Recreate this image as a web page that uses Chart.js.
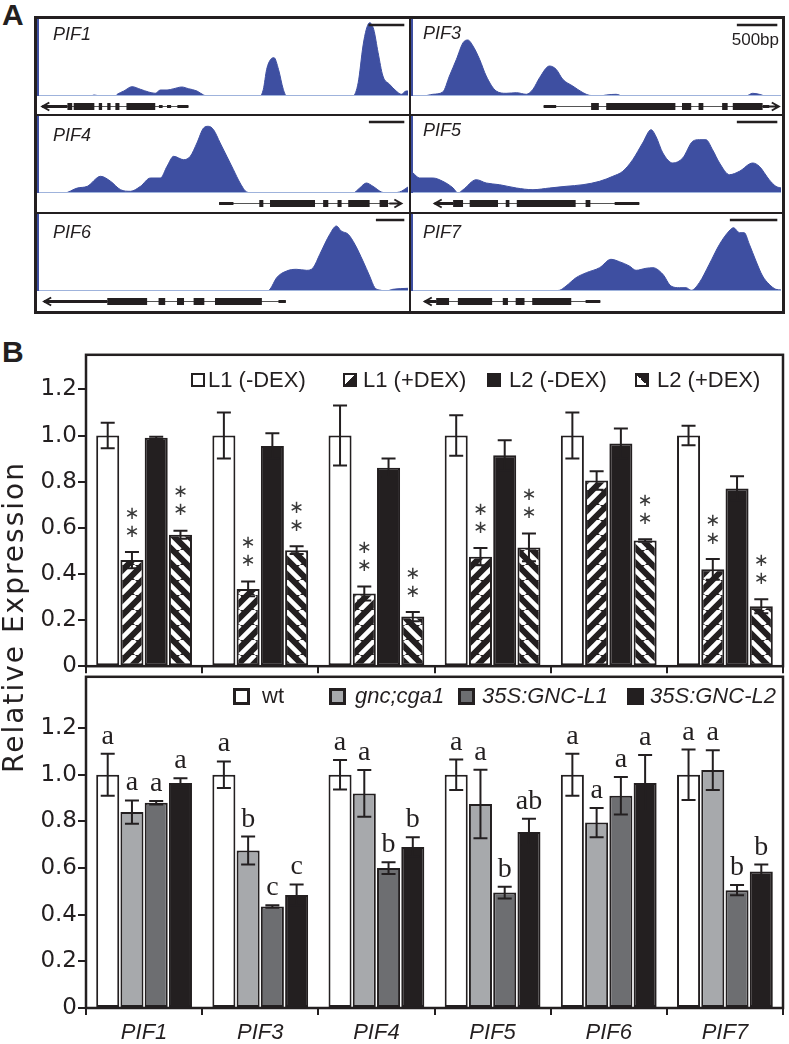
<!DOCTYPE html>
<html>
<head>
    <title>PIF binding and expression</title>
    <style>
        body {
            margin: 0;
            width: 789px;
            height: 1044px;
            position: relative;
            overflow: hidden;
            background: #ffffff;
            font-family: 'Liberation Sans', Arial, sans-serif;
            color: #231f20;
        }
        .abs { position: absolute; }
        .panel-letter { font-size: 30px; font-weight: bold; line-height: 30px; }
        .track-label { font-size: 18px; font-style: italic; line-height: 18px; }
        .legend-text { font-size: 22px; line-height: 22px; white-space: nowrap; }
        .swatch { box-sizing: border-box; border: 2px solid #231f20; }
        .rule { background: #231f20; }
        #frameA { left: 34px; top: 16px; width: 745px; height: 292px; border: 3px solid #231f20; }
        #ylabel {
            left: -166px; top: 600px; width: 360px; height: 34px; line-height: 34px;
            text-align: center; font-family: 'DejaVu Sans', sans-serif; font-size: 28px;
            letter-spacing: 2px; transform: rotate(-90deg); white-space: nowrap;
        }
    </style>
    <script src="https://cdn.jsdelivr.net/npm/chart.js"></script>
</head>
<body>
    <div class="abs panel-letter" style="left:2px; top:0px;">A</div>
    <div class="abs panel-letter" style="left:2px; top:337px;">B</div>

    <div id="frameA" class="abs"></div>
    <div class="abs rule" style="left:409px; top:19px; width:2px; height:292px;"></div>
    <div class="abs rule" style="left:37px; top:114px; width:745px; height:2px;"></div>
    <div class="abs rule" style="left:37px; top:212px; width:745px; height:2px;"></div>
    <div id="tracks"></div>
    <div class="abs" style="left:700px; width:79px; top:31px; font-size:17px; line-height:17px; text-align:right;">500bp</div>

    <canvas id="topChart" class="abs" style="left:0; top:340px;" width="789" height="341"></canvas>
    <canvas id="bottomChart" class="abs" style="left:0; top:662px;" width="789" height="382"></canvas>
    <div id="legends"></div>
    <div id="ylabel" class="abs">Relative Expression</div>

    <script>
        // ---------- panel A: ChIP coverage tracks (x = % of window, y = signal height) ----------
        const trackNames = ['PIF1', 'PIF3', 'PIF4', 'PIF5', 'PIF6', 'PIF7'];

        const pif1Pos = [0, 14, 14.9, 16.7, 20.7, 21.2, 23, 25.2, 27.5, 29.7, 31.5, 32.9, 34.7, 36.5, 38.7, 40.5, 42.8, 44.6, 45.5, 59.9, 60.8, 61.7, 62.8, 63.7, 64.9, 66.2, 67.1, 85.1, 86.5, 87.8, 88.7, 89.6, 90.7, 91.9, 93.2, 95, 96.8, 98.2, 99.5, 100];
        const pif1Cov = [0, 0, 1, 0, 0, 1.7, 5, 9.3, 6.7, 4, 2.7, 6, 6, 7.3, 9, 7.3, 5, 1, 0, 0, 6.7, 26.7, 36.7, 38.3, 26.7, 6.7, 0, 0, 13.3, 50, 66.7, 73.3, 66.7, 43.3, 20, 11.7, 5, 1.7, 5, 5];

        const pif3Pos = [0, 2.7, 5.4, 8.1, 9.9, 11.8, 13.6, 14.9, 16.3, 18.1, 19.9, 22.6, 25.3, 28.1, 30.8, 32.6, 34.4, 37.1, 38.9, 40.7, 43.4, 46.2, 47.9, 50.7, 52.5, 55.2, 57, 90.5, 92.3, 94.1, 95.9, 100];
        const pif3Cov = [0, 0, 1.7, 4, 20, 36.7, 53.3, 56, 50, 36.7, 20, 5, 2.7, 3.3, 1.7, 6.7, 18.3, 30, 26.7, 16.7, 10, 3.3, 0.7, 0, 1, 1.7, 0, 0, 2.7, 1.7, 0, 0];

        const pif4Pos = [0, 6.8, 10.4, 13.1, 16.7, 19.4, 22.1, 24.8, 27.5, 30.2, 32.9, 34.7, 36.5, 39.2, 41, 42.8, 44.6, 45.9, 47.3, 49.1, 50.9, 52.7, 54.5, 56.3, 58.1, 85.1, 86.9, 88.7, 90.5, 92.8, 94.6, 97.7, 100];
        const pif4Cov = [0, 0, 5, 6.7, 16.7, 11.7, 3.3, 1.7, 6.7, 15, 15, 26.7, 36.7, 33.3, 36.7, 50, 65, 66.7, 63.3, 50, 36.7, 23.3, 10, 1, 0, 0, 5, 10, 6.7, 1, 0, 1, 6];

        const pif5Pos = [0, 1.8, 5.4, 8.1, 10.9, 12.2, 13.6, 17.2, 19.9, 23.5, 28.1, 32.6, 37.1, 41.6, 46.2, 50.7, 54.3, 57, 59.7, 62.4, 64.7, 66, 67.9, 70.6, 73.3, 76, 77.8, 79.6, 81.4, 83.3, 86, 88.7, 92.3, 94.1, 96.8, 98.6, 100];
        const pif5Cov = [20, 15, 15, 11.7, 5, 0, 3.3, 13.3, 10, 8.3, 5, 3.3, 5, 6.7, 8.3, 11.7, 16.7, 21.7, 33.3, 50, 63.3, 56.7, 40, 30, 35, 51.7, 53.3, 53.3, 43.3, 30, 18.3, 21.7, 30, 26.7, 13.3, 6.7, 5];

        const pif6Pos = [0, 61.7, 62.6, 64.4, 67.1, 69.8, 72.5, 74.3, 76.1, 78.8, 80.6, 81.9, 83.8, 85.6, 87.8, 89.6, 91, 92.3, 94.1, 95.9, 100];
        const pif6Cov = [0, 0, 1.7, 13.3, 20, 21.7, 20.7, 23.3, 36.7, 56.7, 65, 60, 56.7, 46.7, 30, 15, 3.3, 1, 0, 1.7, 2.7];

        const pif7Pos = [0, 37.1, 39.8, 41.6, 44.3, 47.1, 50.7, 53.8, 56.1, 58.8, 60.6, 63.3, 65.2, 67.9, 70.1, 72.4, 74.2, 75.6, 77.8, 80.5, 83.3, 85.9, 87.1, 88.7, 90, 91.4, 93.2, 95, 96.8, 98.6, 100];
        const pif7Cov = [0, 0, 0.7, 5, 13.3, 18.3, 23.3, 31.7, 29.3, 25, 20.7, 22.7, 23.3, 16.7, 5, 3.3, 3.3, 0.7, 8.3, 26.7, 46.7, 60, 63.3, 58.3, 58.3, 46.7, 30, 15, 6.7, 1.7, 1];

        // gene models (same % units), strand -1 = arrow to the left
        const geneSpans = [[0.9, 40.5], [35.5, 99.4], [48.8, 98.2], [5.9, 61.5], [1.4, 66.9], [3.2, 50.9]];
        const geneStrands = [-1, 1, 1, -1, -1, -1];
        const geneExons = [
            [[7.7, 9], [9.4, 15], [16.2, 17.1], [18.5, 19.4], [20.7, 21.8], [23.7, 31.5]],
            [[48.4, 50.5], [52.5, 71.3], [73.1, 75.6], [77.6, 78.9], [84, 85.5], [86.9, 95]],
            [[59.7, 60.8], [62.6, 74.8], [77, 78.4], [80.9, 82], [83.8, 89.6], [92.3, 94.6]],
            [[10.9, 13.6], [15.4, 23.1], [25.2, 26.2], [28.2, 44.2], [46.9, 48.2]],
            [[18.5, 29.3], [32.4, 34.2], [37.4, 39.3], [41.9, 44.8], [47.7, 60.4]],
            [[6.3, 9.8], [12.2, 21.5], [24.4, 25.8], [27.9, 30.3], [32.4, 43]]
        ];
        const geneUtrs = [
            [[0.9, 7.7], [32.5, 33.5], [34.7, 35.8], [37.5, 40.5]],
            [[35.5, 38.9], [95, 96.8]],
            [[48.8, 52.7]],
            [[5.9, 10.9], [54.8, 61.5]],
            [[1.4, 18.5], [64.9, 66.9]],
            [[3.2, 6.3], [46.9, 50.9]]
        ];
        const scaleBar500bp = [9.7, 11, 9.6, 11, 7.7, 12.9];

        // ---------- panel B: qRT-PCR ----------
        const genes = ['PIF1', 'PIF3', 'PIF4', 'PIF5', 'PIF6', 'PIF7'];
        const yTicks = [0, 0.2, 0.4, 0.6, 0.8, 1.0, 1.2];

        const topSeries = ['L1 (-DEX)', 'L1 (+DEX)', 'L2 (-DEX)', 'L2 (+DEX)'];
        const l1Minus = [1, 1, 1, 1, 1, 1];
        const l1MinusErr = [0.055, 0.1, 0.13, 0.088, 0.1, 0.042];
        const l1Plus = [0.46, 0.335, 0.315, 0.475, 0.805, 0.42];
        const l1PlusErr = [0.035, 0.032, 0.03, 0.037, 0.04, 0.045];
        const l2Minus = [0.99, 0.955, 0.86, 0.915, 0.965, 0.77];
        const l2MinusErr = [0.005, 0.055, 0.04, 0.065, 0.065, 0.053];
        const l2Plus = [0.57, 0.503, 0.215, 0.515, 0.545, 0.26];
        const l2PlusErr = [0.017, 0.017, 0.02, 0.06, 0.005, 0.03];
        const l1PlusSig = [true, true, true, true, false, true];
        const l2PlusSig = [true, true, true, true, true, true];

        const bottomSeries = ['wt', 'gnc;cga1', '35S:GNC-L1', '35S:GNC-L2'];
        const wt = [1, 1, 1, 1, 1, 1];
        const wtErr = [0.09, 0.057, 0.063, 0.065, 0.09, 0.108];
        const gncCga1 = [0.84, 0.675, 0.92, 0.875, 0.795, 1.02];
        const gncCga1Err = [0.05, 0.06, 0.1, 0.147, 0.063, 0.085];
        const gncL1 = [0.88, 0.435, 0.6, 0.495, 0.91, 0.505];
        const gncL1Err = [0.008, 0.005, 0.025, 0.025, 0.08, 0.022];
        const gncL2 = [0.965, 0.485, 0.69, 0.755, 0.965, 0.585];
        const gncL2Err = [0.02, 0.045, 0.042, 0.056, 0.12, 0.03];
        const wtLetters = ['a', 'a', 'a', 'a', 'a', 'a'];
        const gncCga1Letters = ['a', 'b', 'a', 'a', 'a', 'a'];
        const gncL1Letters = ['a', 'c', 'b', 'b', 'a', 'b'];
        const gncL2Letters = ['a', 'c', 'b', 'ab', 'a', 'b'];

        const INK = '#231f20';
        const BLUE = '#3e4fa1';

        // ---------- track charts ----------
        const trackPos = [pif1Pos, pif3Pos, pif4Pos, pif5Pos, pif6Pos, pif7Pos];
        const trackCov = [pif1Cov, pif3Cov, pif4Cov, pif5Cov, pif6Cov, pif7Cov];

        const trackDecor = {
            id: 'trackDecor',
            afterDatasetsDraw(chart, args, opts) {
                const ctx = chart.ctx, a = chart.chartArea, xs = chart.scales.x;
                const px = v => xs.getPixelForValue(v);
                const k = opts.index;
                ctx.save();
                // baseline + blue axis
                ctx.strokeStyle = '#9fb3dc';
                ctx.lineWidth = 1;
                ctx.beginPath(); ctx.moveTo(a.left, a.bottom - 0.5); ctx.lineTo(a.right, a.bottom - 0.5); ctx.stroke();
                ctx.strokeStyle = BLUE;
                ctx.lineWidth = 2;
                ctx.beginPath(); ctx.moveTo(a.left - 1, 0); ctx.lineTo(a.left - 1, a.bottom); ctx.stroke();
                // scale bar (500 bp)
                ctx.strokeStyle = INK;
                ctx.lineWidth = 2.5;
                ctx.beginPath(); ctx.moveTo(px(99 - scaleBar500bp[k]), 6); ctx.lineTo(px(99), 6); ctx.stroke();
                // gene model
                const y = a.bottom + 10;
                const span = geneSpans[k];
                ctx.strokeStyle = '#555';
                ctx.lineWidth = 1;
                ctx.beginPath(); ctx.moveTo(px(span[0]), y + 0.5); ctx.lineTo(px(span[1]), y + 0.5); ctx.stroke();
                ctx.fillStyle = INK;
                geneUtrs[k].forEach(([s, e]) => ctx.fillRect(px(s), y - 1, px(e) - px(s), 3));
                geneExons[k].forEach(([s, e]) => ctx.fillRect(px(s), y - 3, px(e) - px(s), 7));
                const tip = geneStrands[k] > 0 ? px(span[1]) : px(span[0]);
                const d = geneStrands[k] > 0 ? -1 : 1;
                ctx.strokeStyle = INK;
                ctx.lineWidth = 2;
                ctx.beginPath();
                ctx.moveTo(tip + d * 7, y - 3.5); ctx.lineTo(tip, y + 0.5); ctx.lineTo(tip + d * 7, y + 4.5);
                ctx.moveTo(tip, y + 0.5); ctx.lineTo(tip + d * 12, y + 0.5);
                ctx.stroke();
                ctx.restore();
            }
        };

        const colLeft = [37, 411];
        const colWidth = [372, 371];
        const rowTop = [19, 116, 214];
        const labelTop = [25, 24, 126, 121, 223, 223];
        const tracksDiv = document.getElementById('tracks');

        trackNames.forEach((name, k) => {
            const col = k % 2, row = Math.floor(k / 2);
            const cv = document.createElement('canvas');
            cv.className = 'abs';
            cv.width = colWidth[col];
            cv.height = 95;
            cv.style.left = colLeft[col] + 'px';
            cv.style.top = rowTop[row] + 'px';
            tracksDiv.appendChild(cv);

            const lab = document.createElement('div');
            lab.className = 'abs track-label';
            lab.style.left = (col ? 423 : 53) + 'px';
            lab.style.top = labelTop[k] + 'px';
            lab.textContent = name;
            tracksDiv.appendChild(lab);

            new Chart(cv, {
                type: 'line',
                data: {
                    datasets: [{
                        data: trackPos[k].map((x, i) => ({ x: x, y: trackCov[k][i] })),
                        fill: 'origin',
                        backgroundColor: BLUE,
                        borderColor: BLUE,
                        borderWidth: 1,
                        pointRadius: 0,
                        cubicInterpolationMode: 'monotone'
                    }]
                },
                options: {
                    responsive: false,
                    animation: false,
                    devicePixelRatio: 1,
                    events: [],
                    layout: { padding: { left: 2, right: 1, top: 0, bottom: 18 } },
                    scales: {
                        x: { type: 'linear', min: 0, max: 100, display: false },
                        y: { min: 0, max: 77, display: false }
                    },
                    plugins: {
                        legend: { display: false },
                        tooltip: { enabled: false },
                        trackDecor: { index: k }
                    }
                },
                plugins: [trackDecor]
            });
        });

        // ---------- bar charts ----------
        function hatch(dir) {
            const c = document.createElement('canvas');
            c.width = 15;
            c.height = 15;
            const g = c.getContext('2d');
            g.fillStyle = INK;
            g.fillRect(0, 0, 15, 15);
            g.strokeStyle = '#ffffff';
            g.lineWidth = 4.6;
            g.beginPath();
            for (const k of [-15, 0, 15]) {
                if (dir === '/') { g.moveTo(k, 15); g.lineTo(k + 15, 0); }
                else { g.moveTo(k, 0); g.lineTo(k + 15, 15); }
            }
            g.stroke();
            return g.createPattern(c, 'repeat');
        }

        const barExtras = {
            id: 'barExtras',
            afterDatasetsDraw(chart) {
                const ctx = chart.ctx, ys = chart.scales.y;
                chart.data.datasets.forEach((ds, i) => {
                    const meta = chart.getDatasetMeta(i);
                    meta.data.forEach((bar, j) => {
                        const v = ds.data[j], e = ds.errors[j];
                        const top = ys.getPixelForValue(v + e);
                        const bot = ys.getPixelForValue(v - e);
                        ctx.save();
                        ctx.strokeStyle = INK;
                        ctx.lineWidth = 2;
                        ctx.beginPath();
                        ctx.moveTo(bar.x, top); ctx.lineTo(bar.x, bot);
                        ctx.moveTo(bar.x - 7, top); ctx.lineTo(bar.x + 7, top);
                        ctx.moveTo(bar.x - 7, bot); ctx.lineTo(bar.x + 7, bot);
                        ctx.stroke();
                        ctx.textAlign = 'center';
                        if (ds.stars && ds.stars[j]) {
                            ctx.fillStyle = '#3a3a3a';
                            ctx.font = '18px "DejaVu Sans"';
                            ctx.textBaseline = 'middle';
                            ctx.fillText('\u2217', bar.x, top - 20);
                            ctx.fillText('\u2217', bar.x, top - 38);
                        }
                        if (ds.letters) {
                            ctx.fillStyle = INK;
                            ctx.font = '28px "Liberation Serif", "Times New Roman", serif';
                            ctx.textBaseline = 'alphabetic';
                            ctx.fillText(ds.letters[j], bar.x, top - 10);
                        }
                        ctx.restore();
                    });
                });
            },
            afterDraw(chart) {
                const ctx = chart.ctx, a = chart.chartArea;
                ctx.save();
                ctx.strokeStyle = INK;
                ctx.lineWidth = 2.5;
                ctx.strokeRect(a.left, a.top, a.right - a.left, a.bottom - a.top);
                ctx.restore();
            }
        };

        function barOptions(maxY, showX) {
            return {
                responsive: false,
                animation: false,
                devicePixelRatio: 1,
                events: [],
                layout: { padding: { top: 11, right: 6, left: 0, bottom: 0 } },
                datasets: {
                    bar: {
                        categoryPercentage: 0.835,
                        barPercentage: 0.95,
                        borderWidth: 2,
                        borderColor: INK,
                        borderSkipped: false
                    }
                },
                scales: {
                    x: {
                        offset: true,
                        grid: { offset: true, drawOnChartArea: false, drawTicks: true, tickLength: 7, color: INK, lineWidth: 2 },
                        border: { display: false },
                        ticks: {
                            display: showX,
                            color: INK,
                            padding: 5,
                            font: { family: 'Liberation Sans', size: 22, style: 'italic' }
                        },
                        afterFit: s => { s.height = showX ? 36 : 8; }
                    },
                    y: {
                        min: 0,
                        max: maxY,
                        afterBuildTicks: s => { s.ticks = yTicks.map(v => ({ value: v })); },
                        grid: { drawOnChartArea: false, tickLength: 8, color: INK, lineWidth: 2 },
                        border: { display: false },
                        ticks: {
                            color: INK,
                            padding: 1,
                            font: { family: 'DejaVu Sans', size: 23 },
                            callback: v => v === 0 ? '0' : v.toFixed(1)
                        },
                        afterFit: s => { s.width = 86; }
                    }
                },
                plugins: { legend: { display: false }, tooltip: { enabled: false } }
            };
        }

        new Chart(document.getElementById('topChart'), {
            type: 'bar',
            data: {
                labels: genes,
                datasets: [
                    { label: topSeries[0], data: l1Minus, errors: l1MinusErr, backgroundColor: '#ffffff' },
                    { label: topSeries[1], data: l1Plus, errors: l1PlusErr, stars: l1PlusSig, backgroundColor: hatch('/') },
                    { label: topSeries[2], data: l2Minus, errors: l2MinusErr, backgroundColor: INK },
                    { label: topSeries[3], data: l2Plus, errors: l2PlusErr, stars: l2PlusSig, backgroundColor: hatch('\\') }
                ]
            },
            options: barOptions(1.35, false),
            plugins: [barExtras]
        });

        new Chart(document.getElementById('bottomChart'), {
            type: 'bar',
            data: {
                labels: genes,
                datasets: [
                    { label: bottomSeries[0], data: wt, errors: wtErr, letters: wtLetters, backgroundColor: '#ffffff' },
                    { label: bottomSeries[1], data: gncCga1, errors: gncCga1Err, letters: gncCga1Letters, backgroundColor: '#a7a9ac' },
                    { label: bottomSeries[2], data: gncL1, errors: gncL1Err, letters: gncL1Letters, backgroundColor: '#6d6e71' },
                    { label: bottomSeries[3], data: gncL2, errors: gncL2Err, letters: gncL2Letters, backgroundColor: INK }
                ]
            },
            options: barOptions(1.42, true),
            plugins: [barExtras]
        });

        // ---------- HTML legends ----------
        const legendsDiv = document.getElementById('legends');
        function addLegend(names, swatches, boxLeft, textLeft, boxTop, boxSize, border, textTop, italic) {
            names.forEach((name, i) => {
                const box = document.createElement('div');
                box.className = 'abs swatch';
                box.style.left = boxLeft[i] + 'px';
                box.style.top = boxTop + 'px';
                box.style.width = boxSize + 'px';
                box.style.height = boxSize + 'px';
                box.style.borderWidth = border + 'px';
                box.style.background = swatches[i];
                legendsDiv.appendChild(box);
                const t = document.createElement('div');
                t.className = 'abs legend-text';
                t.style.left = textLeft[i] + 'px';
                t.style.top = textTop + 'px';
                if (italic[i]) t.style.fontStyle = 'italic';
                t.textContent = name;
                legendsDiv.appendChild(t);
            });
        }
        addLegend(topSeries,
            ['#ffffff', 'linear-gradient(135deg, #ffffff 50%, ' + INK + ' 50%)', INK, 'linear-gradient(45deg, #ffffff 50%, ' + INK + ' 50%)'],
            [191, 343, 487, 635], [208, 363, 509, 657], 373, 14, 2, 369, [false, false, false, false]);
        addLegend(bottomSeries,
            ['#ffffff', '#a7a9ac', '#6d6e71', INK],
            [233, 329, 458, 627], [262, 355, 482, 650], 688, 17, 3, 685, [false, true, true, true]);
    </script>
</body>
</html>
